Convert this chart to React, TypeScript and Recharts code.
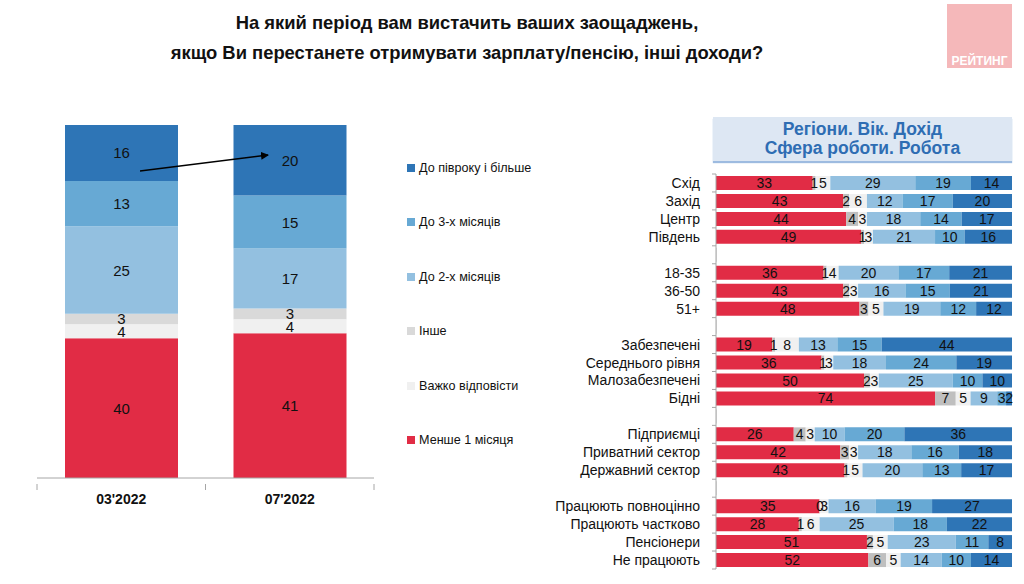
import React from 'react';
import { BarChart, Bar, XAxis, YAxis, LabelList } from 'recharts';

const FONT = '"Liberation Sans", Arial, sans-serif';

const RED = '#e12c45';
const DARK_BLUE = '#2e75b6';
const MID_BLUE = '#67a9d4';
const LIGHT_BLUE = '#93c0e0';
const GREY = '#d9d9d9';
const LIGHT_GREY = '#f0f0f0';
const DARK_GREY = '#bfbfbf';

// ліва діаграма: динаміка
const periods = ["03'2022", "07'2022"];
const lessMonth = [40, 41];
const hardToSay = [4, 4];
const otherAns = [3, 3];
const upTo2 = [25, 17];
const upTo3 = [13, 15];
const halfYear = [16, 20];

// права діаграма: групи
const groups = [
  'Схід', 'Захід', 'Центр', 'Південь', '',
  '18-35', '36-50', '51+', '',
  'Забезпечені', 'Середнього рівня', 'Малозабезпечені', 'Бідні', '',
  'Підприємці', 'Приватний сектор', 'Державний сектор', '',
  'Працюють повноцінно', 'Працюють частково', 'Пенсіонери', 'Не працюють',
];
const gLess = [33, 43, 44, 49, null, 36, 43, 48, null, 19, 36, 50, 74, null, 26, 42, 43, null, 35, 28, 51, 52];
const gGrey = [1, 2, 4, 1, null, 1, 2, 3, null, 1, 1, 2, 7, null, 4, 3, 1, null, 0, 1, 2, 6];
const gLight = [5, 6, 3, 3, null, 4, 3, 5, null, 8, 3, 3, 5, null, 3, 3, 5, null, 3, 6, 5, 5];
const gUpTo2 = [29, 12, 18, 21, null, 20, 16, 19, null, 13, 18, 25, 9, null, 10, 18, 20, null, 16, 25, 23, 14];
const gUpTo3 = [19, 17, 14, 10, null, 17, 15, 12, null, 15, 24, 10, 3, null, 20, 16, 13, null, 19, 18, 11, 10];
const gHalf = [14, 20, 17, 16, null, 21, 21, 12, null, 44, 19, 10, 2, null, 36, 18, 17, null, 27, 22, 8, 14];

const legendItems = [
  { label: 'До півроку і більше', color: DARK_BLUE },
  { label: 'До 3-х місяців', color: MID_BLUE },
  { label: 'До 2-х місяців', color: LIGHT_BLUE },
  { label: 'Інше', color: GREY },
  { label: 'Важко відповісти', color: LIGHT_GREY },
  { label: 'Менше 1 місяця', color: RED },
];

const leftData = periods.map((p, i) => ({
  period: p, less: lessMonth[i], hard: hardToSay[i], other: otherAns[i],
  m2: upTo2[i], m3: upTo3[i], half: halfYear[i],
}));

const rightData = groups.map((g, i) => ({
  name: g, less: gLess[i], grey: gGrey[i], light: gLight[i],
  m2: gUpTo2[i], m3: gUpTo3[i], half: gHalf[i],
}));

// підпис по центру сегмента (value = сире значення з payload через dataKey)
const makeLabel = (fontSize: number) => (props: any) => {
  const vb = props.viewBox || props;
  const v = props.value;
  if (v === null || v === undefined || Array.isArray(v)) return null;
  return (
    <text
      x={vb.x + vb.width / 2}
      y={vb.y + vb.height / 2}
      textAnchor="middle"
      dominantBaseline="central"
      fontSize={fontSize}
      fontFamily={FONT}
      fill="#111"
    >
      {v}
    </text>
  );
};

const LeftTick = (props: any) => {
  const { x, y, payload, index } = props;
  const band = 168.5;
  return (
    <g>
      <line x1={x - band / 2} y1={y - 2} x2={x - band / 2} y2={y + 4} stroke="#a6a6a6" />
      {index === periods.length - 1 && (
        <line x1={x + band / 2} y1={y - 2} x2={x + band / 2} y2={y + 4} stroke="#a6a6a6" />
      )}
      <text x={x} y={y + 13} textAnchor="middle" dominantBaseline="central"
        fontSize={14} fontWeight="bold" fontFamily={FONT} fill="#111">
        {payload.value}
      </text>
    </g>
  );
};

const RightTick = (props: any) => {
  const { x, y, payload, index } = props;
  const band = 395 / groups.length;
  const ax = x + 8;
  return (
    <g>
      {index === 0 && <line x1={ax - 4} y1={y - band / 2} x2={ax} y2={y - band / 2} stroke="#a6a6a6" />}
      <line x1={ax - 4} y1={y + band / 2} x2={ax} y2={y + band / 2} stroke="#a6a6a6" />
      <text x={ax - 16} y={y} textAnchor="end" dominantBaseline="central"
        fontSize={14} fontFamily={FONT} fill="#111">
        {payload.value}
      </text>
    </g>
  );
};

const LeftChart = () => (
  <BarChart
    width={560}
    height={584}
    data={leftData}
    stackOffset="expand"
    margin={{ top: 125, right: 186, bottom: 76, left: 37 }}
    barCategoryGap={28}
  >
    <XAxis dataKey="period" axisLine={{ stroke: '#a6a6a6' }} tickLine={false} tick={<LeftTick />} height={30} />
    <YAxis hide domain={[0, 1]} />
    <Bar dataKey="less" stackId="a" fill={RED} isAnimationActive={false}>
      <LabelList dataKey="less" content={makeLabel(15)} />
    </Bar>
    <Bar dataKey="hard" stackId="a" fill={LIGHT_GREY} isAnimationActive={false}>
      <LabelList dataKey="hard" content={makeLabel(15)} />
    </Bar>
    <Bar dataKey="other" stackId="a" fill={GREY} isAnimationActive={false}>
      <LabelList dataKey="other" content={makeLabel(15)} />
    </Bar>
    <Bar dataKey="m2" stackId="a" fill={LIGHT_BLUE} isAnimationActive={false}>
      <LabelList dataKey="m2" content={makeLabel(15)} />
    </Bar>
    <Bar dataKey="m3" stackId="a" fill={MID_BLUE} isAnimationActive={false}>
      <LabelList dataKey="m3" content={makeLabel(15)} />
    </Bar>
    <Bar dataKey="half" stackId="a" fill={DARK_BLUE} isAnimationActive={false}>
      <LabelList dataKey="half" content={makeLabel(15)} />
    </Bar>
  </BarChart>
);

const RightChart = () => (
  <BarChart
    layout="vertical"
    width={484}
    height={584}
    data={rightData}
    stackOffset="expand"
    margin={{ top: 174, right: 12, bottom: 15, left: 0 }}
    barSize={14}
  >
    <XAxis type="number" hide domain={[0, 1]} />
    <YAxis type="category" dataKey="name" width={176} interval={0}
      axisLine={{ stroke: '#a6a6a6' }} tickLine={false} tick={<RightTick />} />
    <Bar dataKey="less" stackId="r" fill={RED} isAnimationActive={false}>
      <LabelList dataKey="less" content={makeLabel(14)} />
    </Bar>
    <Bar dataKey="grey" stackId="r" fill={DARK_GREY} minPointSize={0.5} isAnimationActive={false}>
      <LabelList dataKey="grey" content={makeLabel(14)} />
    </Bar>
    <Bar dataKey="light" stackId="r" fill={LIGHT_GREY} isAnimationActive={false}>
      <LabelList dataKey="light" content={makeLabel(14)} />
    </Bar>
    <Bar dataKey="m2" stackId="r" fill={LIGHT_BLUE} isAnimationActive={false}>
      <LabelList dataKey="m2" content={makeLabel(14)} />
    </Bar>
    <Bar dataKey="m3" stackId="r" fill={MID_BLUE} isAnimationActive={false}>
      <LabelList dataKey="m3" content={makeLabel(14)} />
    </Bar>
    <Bar dataKey="half" stackId="r" fill={DARK_BLUE} isAnimationActive={false}>
      <LabelList dataKey="half" content={makeLabel(14)} />
    </Bar>
  </BarChart>
);

export default function App() {
  return (
    <div style={{ position: 'absolute', left: 0, top: 0, width: 1024, height: 584, background: '#fff', fontFamily: FONT, overflow: 'hidden' }}>
      <div style={{ position: 'absolute', left: 117, top: 8, width: 700, textAlign: 'center', fontWeight: 'bold', fontSize: 18.4, lineHeight: '30px', color: '#111' }}>
        На який період вам вистачить ваших заощаджень,<br />
        якщо Ви перестанете отримувати зарплату/пенсію, інші доходи?
      </div>

      <div style={{ position: 'absolute', left: 947, top: 4, width: 65, height: 64, background: '#f5b8ba' }}>
        <div style={{ position: 'absolute', left: 0, right: 0, top: 50, textAlign: 'center', color: '#fff', fontWeight: 'bold', fontSize: 12 }}>
          РЕЙТИНГ
        </div>
      </div>

      <div style={{ position: 'absolute', left: 0, top: 0 }}>
        <LeftChart />
      </div>

      <svg style={{ position: 'absolute', left: 0, top: 0 }} width={1024} height={584}>
        <defs>
          <marker id="arr" markerWidth="8" markerHeight="8" refX="7" refY="4" orient="auto" markerUnits="userSpaceOnUse">
            <path d="M0,0 L8,4 L0,8 z" fill="#000" />
          </marker>
        </defs>
        <line x1={140} y1={171} x2={268} y2={155} stroke="#000" strokeWidth={1.3} markerEnd="url(#arr)" />
      </svg>

      {legendItems.map((it, i) => (
        <div key={it.label} style={{ position: 'absolute', left: 407, top: 168 + i * 54.4 - 9, height: 18, display: 'flex', alignItems: 'center', fontSize: 12.6, color: '#111', whiteSpace: 'nowrap' }}>
          <span style={{ display: 'inline-block', width: 8, height: 8, background: it.color, marginRight: 4 }} />
          {it.label}
        </div>
      ))}

      <div style={{ position: 'absolute', left: 713, top: 117, width: 299, height: 44, background: '#dde7f3', boxShadow: '0 2px 1px #9dbbe0', textAlign: 'center', color: '#2e6db3', fontWeight: 'bold', fontSize: 17.5, lineHeight: '19px', paddingTop: 3, boxSizing: 'border-box' }}>
        Регіони. Вік. Дохід<br />
        Сфера роботи. Робота
      </div>

      <div style={{ position: 'absolute', left: 540, top: 0 }}>
        <RightChart />
      </div>
    </div>
  );
}
